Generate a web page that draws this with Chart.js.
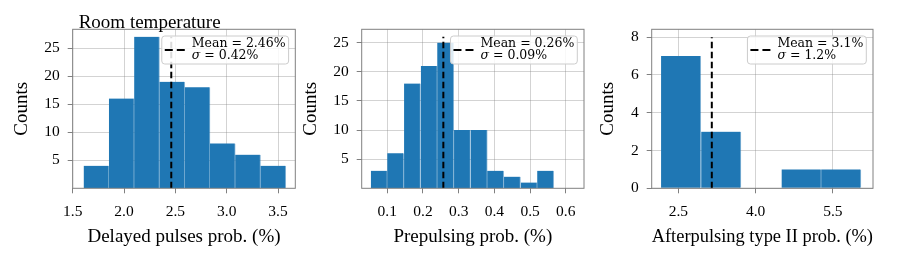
<!DOCTYPE html>
<html>
<head>
<meta charset="utf-8">
<script src="https://cdn.jsdelivr.net/npm/chart.js@4.4.1/dist/chart.umd.min.js"></script>
<style>
  body { margin: 0; background: #fff; }
  #wrap { position: relative; width: 906px; height: 262px; overflow: hidden; }
  canvas { position: absolute; top: 0; }
</style>
</head>
<body>
<div id="wrap">
  <canvas id="delayed" width="300" height="262" style="left:0px"></canvas>
  <canvas id="prepulse" width="294" height="262" style="left:296px"></canvas>
  <canvas id="afterpulse" width="316" height="262" style="left:590px"></canvas>
</div>
<script>
// delayed pulses (room temperature)
let delayedBins = [1.730, 1.976, 2.222, 2.468, 2.714, 2.960, 3.206, 3.452];
let delayedCounts = [4, 16, 27, 19, 18, 8, 6, 4];
let delayedXTicks = [1.5, 2.0, 2.5, 3.0, 3.5];
let delayedXRange = [1.5, 3.668];

// prepulsing
let prepulseBins = [0.077, 0.123, 0.170, 0.217, 0.263, 0.310, 0.357, 0.403, 0.450, 0.497, 0.543];
let prepulseCounts = [3, 6, 18, 21, 25, 10, 10, 3, 2, 1, 3];
let prepulseXTicks = [0.1, 0.2, 0.3, 0.4, 0.5, 0.6];
let prepulseXRange = [0.0283, 0.651];

// afterpulsing type II
let afterBins = [2.55, 3.33, 4.11, 4.89, 5.66];
let afterCounts = [7, 3, 0, 1, 1];
let afterXTicks = [2.5, 4.0, 5.5];
let afterXRange = [1.983, 6.28];

let countTicksBig = [5, 10, 15, 20, 25];
let countTicksSmall = [0, 2, 4, 6, 8];
let countMax = [28.35, 27.3, 8.42];

// mean lines: position, height, legend text
let meanValues = [2.46, 0.257, 3.15];
let meanLineTop = [27, 26, 8];
let meanLabels = ["2.46", "0.26", "3.1"];
let sigmaLabels = ["0.42", "0.09", "1.2"];

let xTitles = ["Delayed pulses prob. (%)", "Prepulsing prob. (%)", "Afterpulsing type II prob. (%)"];

const serif = '"Liberation Serif", "Times New Roman", serif';
const legendFont = '12.5px "DejaVu Serif"';
const legendItalic = 'italic 12.5px "DejaVu Serif"';
const barBlue = "#1f77b4";
const gridColor = "rgba(128,128,128,0.35)";
const spineColor = "#808080";

// frame, legend box and title drawn on top
const boxPlugin = {
  id: "meanBox",
  afterDraw(chart, args, opts) {
    const ctx = chart.ctx;
    const a = chart.chartArea;
    ctx.save();
    ctx.strokeStyle = spineColor;
    ctx.lineWidth = 1;
    ctx.strokeRect(a.left, a.top, a.width, a.height);

    if (opts.title) {
      ctx.fillStyle = "#000";
      ctx.font = "19px " + serif;
      ctx.textBaseline = "alphabetic";
      ctx.textAlign = "left";
      ctx.fillText(opts.title, a.left + 6, a.top - 1.5);
    }

    let line1 = "Mean = " + opts.mean + "%";
    let line2 = " = " + opts.sigma + "%";
    ctx.font = legendFont;
    let w1 = ctx.measureText(line1).width;
    let w2rest = ctx.measureText(line2).width;
    ctx.font = legendItalic;
    let sigW = ctx.measureText("σ").width;
    let textW = Math.max(w1, sigW + w2rest);

    let boxW = 30 + textW + 3;
    let boxH = 28;
    let bx = a.right - 6.7 - boxW;
    let by = a.top + 6.7;

    ctx.beginPath();
    ctx.roundRect(bx, by, boxW, boxH, 3);
    ctx.fillStyle = "rgba(255,255,255,0.85)";
    ctx.fill();
    ctx.strokeStyle = "#cccccc";
    ctx.stroke();

    ctx.beginPath();
    ctx.setLineDash([8, 4]);
    ctx.lineWidth = 2;
    ctx.strokeStyle = "#000";
    ctx.moveTo(bx + 3, by + 14);
    ctx.lineTo(bx + 25, by + 14);
    ctx.stroke();
    ctx.setLineDash([]);

    ctx.fillStyle = "#000";
    ctx.textAlign = "left";
    ctx.textBaseline = "alphabetic";
    ctx.font = legendFont;
    ctx.fillText(line1, bx + 30, by + 10.5);
    ctx.font = legendItalic;
    ctx.fillText("σ", bx + 30, by + 23);
    ctx.font = legendFont;
    ctx.fillText(line2, bx + 30 + sigW, by + 23);
    ctx.restore();
  },
};

function makeHistogram(id, i, bins, counts, xTicks, xRange, yTicks, layout) {
  let barData = [];
  for (let k = 0; k < bins.length; k++) {
    barData.push({ x: bins[k], y: counts[k] });
  }

  return new Chart(document.getElementById(id), {
    type: "bar",
    data: {
      datasets: [
        {
          type: "line",
          data: [
            { x: meanValues[i], y: 0 },
            { x: meanValues[i], y: meanLineTop[i] },
          ],
          borderColor: "#000",
          borderWidth: 2,
          borderDash: [6.5, 3.5],
          pointRadius: 0,
          fill: false,
          order: 0,
        },
        {
          data: barData,
          backgroundColor: barBlue,
          borderColor: "rgba(31,119,180,0.55)",
          borderWidth: { left: 0, right: 1, top: 0, bottom: 0 },
          barPercentage: 1,
          categoryPercentage: 1,
          order: 1,
        },
      ],
    },
    options: {
      responsive: false,
      animation: false,
      events: [],
      layout: {
        padding: { left: 0, right: layout.padRight, top: 29.3, bottom: 0 },
      },
      plugins: {
        legend: { display: false },
        tooltip: { enabled: false },
        meanBox: {
          mean: meanLabels[i],
          sigma: sigmaLabels[i],
          title: layout.title,
        },
      },
      scales: {
        x: {
          type: "linear",
          min: xRange[0],
          max: xRange[1],
          offset: false,
          z: 1,
          afterBuildTicks: (s) => {
            s.ticks = xTicks.map((v) => ({ value: v }));
          },
          afterFit: (s) => {
            s.height = 73.7;
          },
          grid: {
            offset: false,
            color: gridColor,
            lineWidth: 1,
            tickColor: spineColor,
            tickLength: 5,
          },
          border: { display: false },
          ticks: {
            color: "#000",
            font: { family: serif, size: 15.5 },
            padding: 9,
            maxRotation: 0,
            autoSkip: false,
            callback: (v) => v.toFixed(1),
          },
          title: {
            display: true,
            text: xTitles[i],
            color: "#000",
            font: { family: serif, size: 19 },
            padding: { top: 0, bottom: 13.5 },
          },
        },
        y: {
          type: "linear",
          min: 0,
          max: countMax[i],
          z: 1,
          afterBuildTicks: (s) => {
            s.ticks = yTicks.map((v) => ({ value: v }));
          },
          afterFit: (s) => {
            s.width = layout.axisWidth;
          },
          grid: {
            color: gridColor,
            lineWidth: 1,
            tickColor: spineColor,
            tickLength: 5,
          },
          border: { display: false },
          ticks: {
            color: "#000",
            font: { family: serif, size: 15.5 },
            padding: 8,
            autoSkip: false,
          },
          title: {
            display: true,
            text: "Counts",
            color: "#000",
            font: { family: serif, size: 19 },
            padding: { top: layout.titlePad, bottom: 0 },
          },
        },
      },
    },
    plugins: [boxPlugin],
  });
}

makeHistogram("delayed", 0, delayedBins, delayedCounts, delayedXTicks, delayedXRange, countTicksBig,
  { axisWidth: 72.7, padRight: 4.7, titlePad: 10.3, title: "Room temperature" });
makeHistogram("prepulse", 1, prepulseBins, prepulseCounts, prepulseXTicks, prepulseXRange, countTicksBig,
  { axisWidth: 65.7, padRight: 6, titlePad: 3.3 });
makeHistogram("afterpulse", 2, afterBins, afterCounts, afterXTicks, afterXRange, countTicksSmall,
  { axisWidth: 61.7, padRight: 33, titlePad: 6.9 });
</script>
</body>
</html>
